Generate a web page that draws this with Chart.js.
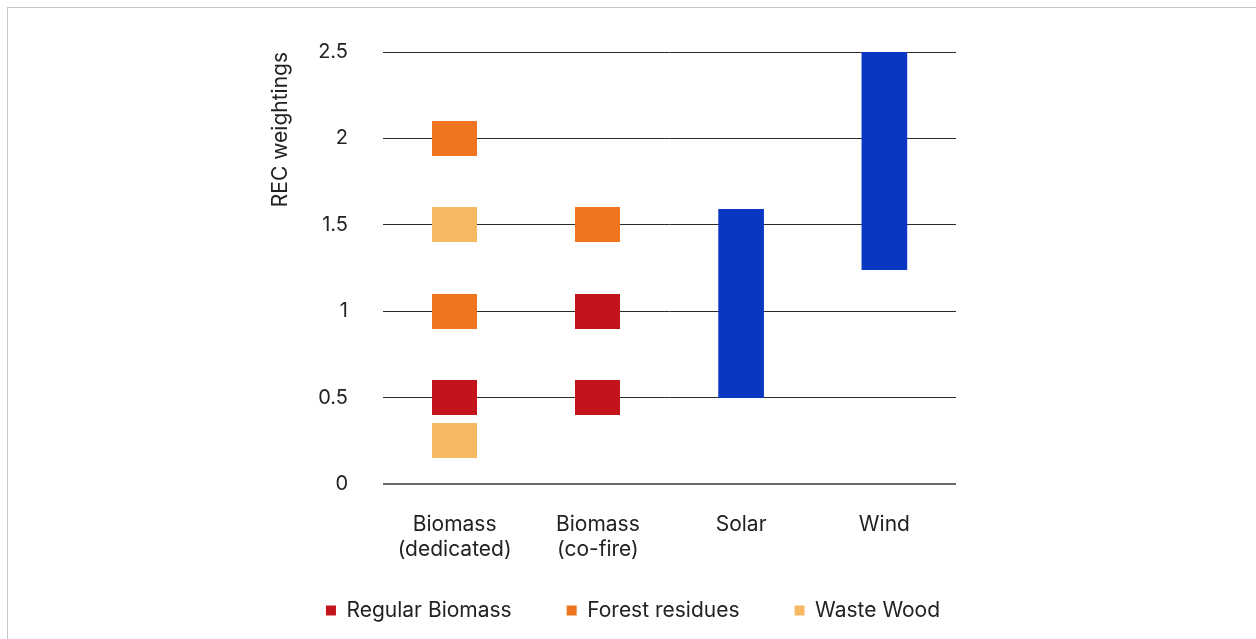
<!DOCTYPE html>
<html>
<head>
<meta charset="utf-8">
<script src="https://cdn.jsdelivr.net/npm/chart.js@4"></script>
<style>
  html, body { margin: 0; padding: 0; background: #fff; overflow: hidden; }
  #frame { position: absolute; left: 7px; top: 7px; width: 1280px; height: 700px; border: 1px solid #c6c6c6; }
  #wrap { position: absolute; left: 0; top: 0; width: 1256px; height: 639px; }
</style>
</head>
<body>
<div id="frame"></div>
<div id="wrap"><canvas id="chart"></canvas></div>
<script>
const categories = [['Biomass', '(dedicated)'], ['Biomass', '(co-fire)'], 'Solar', 'Wind'];

// [category index, REC weighting]
const regularBiomass = [[0, 0.5], [1, 0.5], [1, 1.0]];
const forestResidues = [[0, 1.0], [0, 2.0], [1, 1.5]];
const wasteWood = [[0, 0.25], [0, 1.5]];

// floating ranges [low, high]
const solarRange = [0.5, 1.59];
const windRange = [1.24, 2.5];

const yTicks = [0, 0.5, 1, 1.5, 2, 2.5];

const red = '#c4141b';
const orange = '#ee741d';
const sand = '#f7b864';
const blue = '#0a37c2';

function marker(color) {
    const c = document.createElement('canvas');
    c.width = 45;
    c.height = 35;
    const ctx = c.getContext('2d');
    ctx.fillStyle = color;
    ctx.fillRect(0, 0, 45, 35);
    return c;
}

// use the label object itself so the category scale finds it
function points(rows) {
    return rows.map(r => ({ x: categories[r[0]], y: r[1] }));
}

// legend padding is only applied above the row, pull the row up a bit
const legendLift = {
    id: 'legendLift',
    afterLayout(chart) {
        chart.legend.top -= 19;
        chart.legend.bottom -= 19;
    }
};

Chart.defaults.font.family = 'Inter, "Noto Sans", sans-serif';
Chart.defaults.color = '#222';

new Chart(
    document.getElementById('chart'),
    {
    type: 'bar',
    data: {
        labels: categories,
        datasets: [
            {
                type: 'line',
                label: 'Regular Biomass',
                data: points(regularBiomass),
                showLine: false,
                pointStyle: marker(red),
                backgroundColor: red,
                borderColor: red,
                borderWidth: 0
            },
            {
                type: 'line',
                label: 'Forest residues',
                data: points(forestResidues),
                showLine: false,
                pointStyle: marker(orange),
                backgroundColor: orange,
                borderColor: orange,
                borderWidth: 0
            },
            {
                type: 'line',
                label: 'Waste Wood',
                data: points(wasteWood),
                showLine: false,
                pointStyle: marker(sand),
                backgroundColor: sand,
                borderColor: sand,
                borderWidth: 0
            },
            {
                type: 'bar',
                label: 'Range',
                data: [null, null, solarRange, windRange],
                backgroundColor: blue,
                barThickness: 45,
                grouped: false
            }
        ]
    },
    options: {
        responsive: true,
        maintainAspectRatio: false,
        animation: false,
        layout: {
            padding: { left: 10, right: 0, top: 52, bottom: -11 }
        },
        scales: {
            x: {
                grid: { display: false },
                border: { display: false },
                ticks: {
                    padding: 20,
                    font: { size: 21, lineHeight: 1.2 },
                    maxRotation: 0
                },
                afterFit: (s) => { s.height = 80; }
            },
            y: {
                min: 0,
                max: 2.5,
                afterBuildTicks: (s) => { s.ticks = yTicks.map(v => ({ value: v })); },
                border: { display: false },
                grid: {
                    drawTicks: false,
                    color: (ctx) => ctx.index === 0 ? '#6a6a6a' : '#2a2a2a',
                    lineWidth: (ctx) => ctx.index === 0 ? 2 : 1
                },
                ticks: {
                    padding: 35,
                    font: { size: 20 },
                    callback: (v) => String(v)
                },
                title: {
                    display: true,
                    text: 'REC weightings',
                    align: 'end',
                    font: { size: 21 },
                    padding: { top: 258, bottom: 0 }
                },
                afterFit: (s) => { s.width = 373; }
            },
            spacer: {
                position: 'right',
                display: true,
                grid: { display: false },
                border: { display: false },
                ticks: { display: false },
                afterFit: (s) => { s.width = 300; }
            }
        },
        plugins: {
            tooltip: { enabled: false },
            legend: {
                position: 'bottom',
                labels: {
                    filter: (item) => item.text !== 'Range',
                    boxWidth: 10,
                    boxHeight: 10,
                    padding: 55,
                    font: { size: 21 },
                    color: '#222'
                }
            }
        }
    },
    plugins: [legendLift]
});
</script>
</body>
</html>
